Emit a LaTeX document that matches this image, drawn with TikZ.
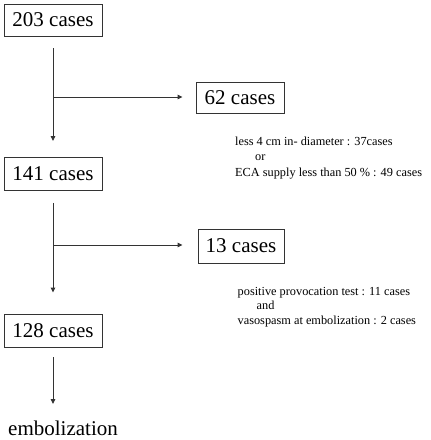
\documentclass[tikz,border=0pt]{standalone}
\usepackage{fontspec}
\setmainfont{Liberation Serif}
\usetikzlibrary{arrows.meta}
\tikzset{
  casebox/.style={draw=black!80, line width=0.9pt, inner sep=0pt, minimum width=#1, minimum height=32pt, font=\fontsize{21}{24}\selectfont},
  note/.style={anchor=base west, inner sep=0pt, font=\fontsize{12.3}{14}\selectfont},
  arr/.style={draw=black!80, line width=0.9pt, -{Triangle[length=5pt,width=4.5pt]}},
}
\begin{document}
\begin{tikzpicture}[x=1pt,y=-1pt]
\useasboundingbox (0,0) rectangle (431,440);
\node[casebox=98pt] (b203) at (53,20) {203 cases};
\node[casebox=88pt, minimum height=31pt] (b62) at (240,97.8) {62 cases};
\node[casebox=98pt, minimum height=33pt] (b141) at (53,174) {141 cases};
\node[casebox=86pt, minimum height=34pt] (b13) at (241,246) {13 cases};
\node[casebox=98pt, minimum height=33pt] (b128) at (53,330.5) {128 cases};
\node[anchor=base west, inner sep=0pt, font=\fontsize{21}{24}\selectfont] (emb) at (8,435) {embolization};

\node[note] (n1) at (235,145) {less 4 cm in- diameter : 37cases};
\node[note] (n2) at (255,160.7) {or};
\node[note] (n3) at (235,176) {ECA supply less than 50 \% : 49 cases};
\node[note] (n4) at (237.5,295) {positive provocation test : 11 cases};
\node[note] (n5) at (256.5,309.5) {and};
\node[note] (n6) at (237.5,324) {vasospasm at embolization : 2 cases};

\coordinate (j1) at (53,97);
\coordinate (j2) at (53,245);
\coordinate (e0) at (53,404);

\draw[arr, shorten <=12pt, shorten >=16pt] (b203) -- (b141);
\draw[arr, shorten >=13pt] (j1) -- (b62.west |- j1);
\draw[arr, shorten <=12pt, shorten >=21pt] (b141) -- (b128);
\draw[arr, shorten >=15pt] (j2) -- (b13.west |- j2);
\draw[arr, shorten <=10pt] (b128) -- (e0);
\end{tikzpicture}
\end{document}
